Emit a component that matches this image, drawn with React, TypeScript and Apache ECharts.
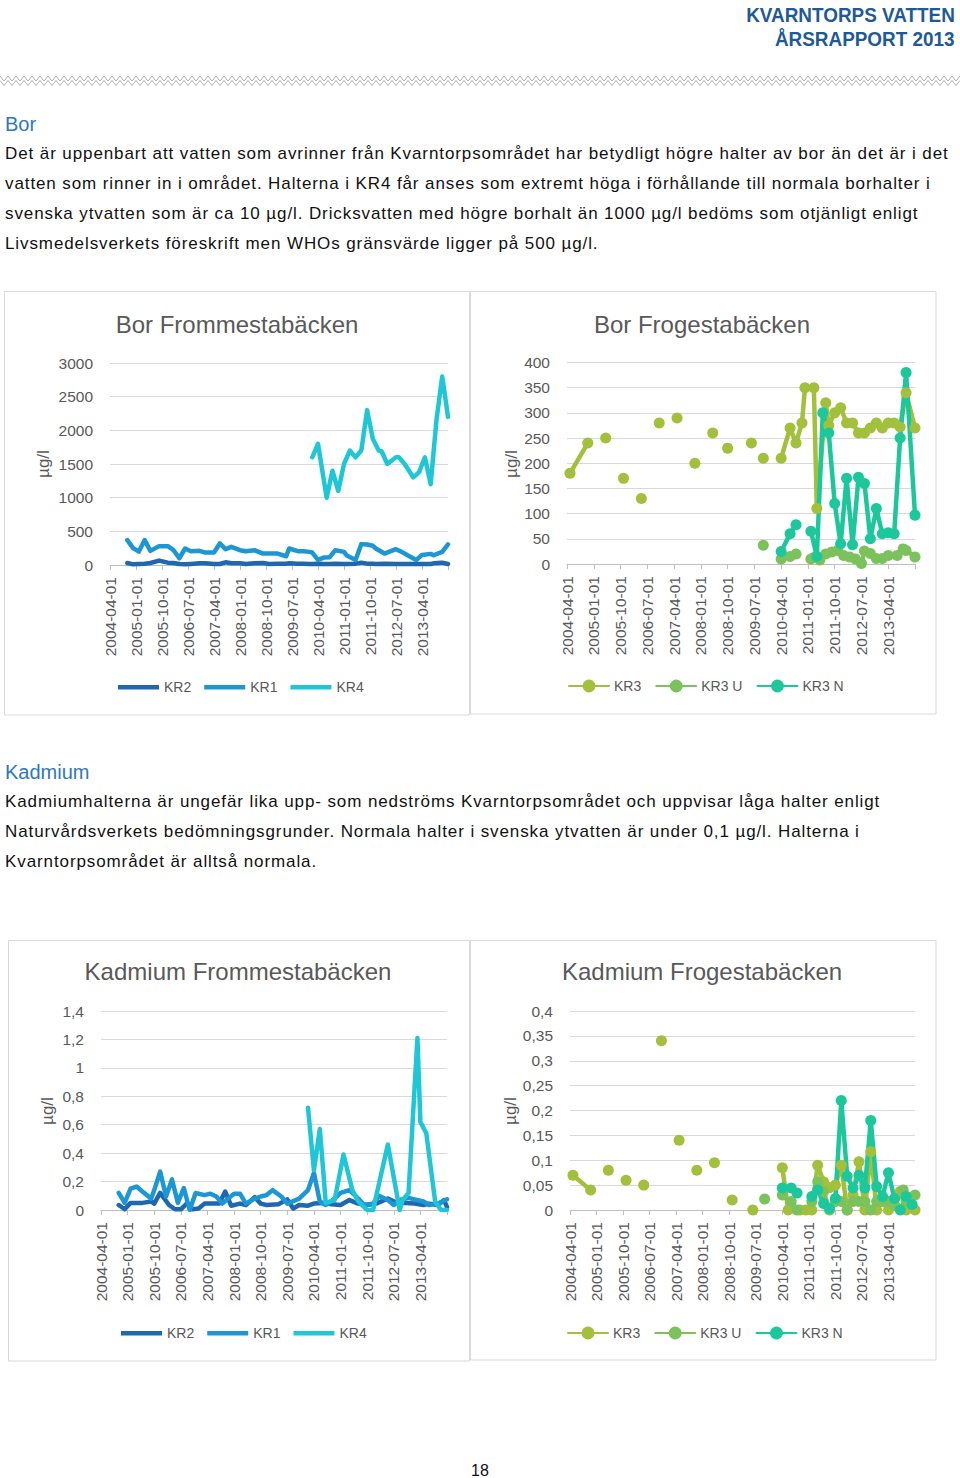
import React, { useEffect, useRef } from "react";
import * as echarts from "echarts";

type Pt = [string, number] | null;

// Monthly category axis 2004-04-01 .. 2014-01-01
const MONTHS: string[] = [];
for (let i = 0; i < 118; i++) {
  const y = 2004 + Math.floor((i + 3) / 12);
  const m = ((i + 3) % 12) + 1;
  MONTHS.push(`${y}-${m < 10 ? "0" + m : m}-01`);
}

const BOR_FROM_TICKS = ["0", "500", "1000", "1500", "2000", "2500", "3000"];
const BOR_FROG_TICKS = ["0", "50", "100", "150", "200", "250", "300", "350", "400"];
const CD_FROM_TICKS = ["0", "0,2", "0,4", "0,6", "0,8", "1", "1,2", "1,4"];
const CD_FROG_TICKS = ["0", "0,05", "0,1", "0,15", "0,2", "0,25", "0,3", "0,35", "0,4"];

// ---- Bor Frommestabäcken ----
const KR2_BOR_FROM: Pt[] = [["2004-10",30],["2004-12",10],["2005-02",15],["2005-04",20],["2005-06",30],["2005-09",65],["2005-12",35],["2006-02",30],["2006-04",15],["2006-06",10],["2006-08",15],["2006-11",25],["2007-01",25],["2007-04",15],["2007-06",15],["2007-08",40],["2007-10",25],["2008-01",25],["2008-03",15],["2008-06",25],["2008-09",30],["2008-11",15],["2009-02",20],["2009-05",20],["2009-06",25],["2009-09",20],["2009-11",20],["2010-01",15],["2010-02",15],["2010-04",20],["2010-06",15],["2010-08",15],["2010-10",20],["2011-01",15],["2011-02",15],["2011-05",20],["2011-07",35],["2011-09",20],["2011-11",20],["2011-12",15],["2012-03",20],["2012-07",15],["2012-09",15],["2012-11",15],["2013-02",15],["2013-04",15],["2013-07",15],["2013-08",25],["2013-11",35],["2014-01",15]];
const KR1_BOR_FROM: Pt[] = [["2004-10",370],["2004-12",250],["2005-02",200],["2005-04",370],["2005-06",210],["2005-09",280],["2005-12",280],["2006-02",220],["2006-04",100],["2006-06",245],["2006-08",205],["2006-11",210],["2007-01",185],["2007-04",185],["2007-06",320],["2007-08",235],["2007-10",270],["2008-01",220],["2008-03",205],["2008-06",220],["2008-09",170],["2008-11",170],["2009-02",170],["2009-05",130],["2009-06",245],["2009-09",205],["2009-11",205],["2010-01",195],["2010-02",185],["2010-04",75],["2010-06",110],["2010-08",115],["2010-10",220],["2011-01",195],["2011-02",140],["2011-05",75],["2011-07",310],["2011-09",305],["2011-11",285],["2011-12",245],["2012-03",170],["2012-07",235],["2012-09",195],["2012-11",145],["2013-02",75],["2013-04",150],["2013-07",165],["2013-08",145],["2013-11",195],["2014-01",305]];
const KR4_BOR_FROM: Pt[] = [["2010-02",1600],["2010-04",1800],["2010-07",1000],["2010-09",1400],["2010-11",1100],["2011-01",1500],["2011-03",1700],["2011-05",1600],["2011-07",1700],["2011-09",2300],["2011-11",1870],["2012-01",1700],["2012-02",1690],["2012-04",1500],["2012-07",1600],["2012-08",1600],["2012-10",1500],["2013-01",1300],["2013-03",1380],["2013-05",1600],["2013-07",1200],["2013-09",2150],["2013-11",2800],["2014-01",2200]];

// ---- Bor Frogestabäcken ---- (null = gap in the series)
const KR3_BOR_FROG: Pt[] = [["2004-05",180],["2004-11",240],null,["2005-05",250],null,["2005-11",170],null,["2006-05",130],null,["2006-11",280],null,["2007-05",290],null,["2007-11",200],null,["2008-05",260],null,["2008-10",230],null,["2009-06",240],null,["2009-10",210],null,["2010-04",210],["2010-07",270],["2010-09",240],["2010-11",280],["2010-12",350],["2011-03",350],["2011-04",110],["2011-07",320],["2011-08",275],["2011-10",300],["2011-12",310],["2012-02",280],["2012-04",280],["2012-06",260],["2012-08",260],["2012-10",270],["2012-12",280],["2013-02",270],["2013-04",280],["2013-06",280],["2013-08",272],["2013-10",340],["2014-01",270]];
const KR3U_BOR_FROG: Pt[] = [["2009-10",37],null,["2010-04",10],["2010-07",15],["2010-09",20],null,["2011-02",10],["2011-03",13],["2011-05",8],["2011-07",20],["2011-09",24],["2011-11",27],["2012-01",17],["2012-03",14],["2012-05",10],["2012-07",1],["2012-08",26],["2012-10",21],["2012-12",11],["2013-02",11],["2013-04",17],["2013-07",17],["2013-09",30],["2013-10",27],["2014-01",14]];
const KR3N_BOR_FROG: Pt[] = [["2010-04",25],["2010-07",60],["2010-09",78],null,["2011-02",65],["2011-04",15],["2011-06",300],["2011-08",260],["2011-10",120],["2011-12",40],["2012-02",170],["2012-04",38],["2012-06",172],["2012-08",160],["2012-10",50],["2012-12",110],["2013-02",60],["2013-04",62],["2013-06",60],["2013-08",250],["2013-10",380],["2014-01",97]];

// ---- Kadmium Frommestabäcken ----
const KR2_CD_FROM: Pt[] = [["2004-10",0.035],["2004-12",0.005],["2005-02",0.05],["2005-06",0.05],["2005-09",0.06],["2005-10",0.045],["2005-12",0.12],["2006-03",0.035],["2006-05",0.005],["2006-07",0.005],["2006-09",0.045],["2006-11",0.005],["2007-01",0.01],["2007-03",0.045],["2007-05",0.045],["2007-08",0.045],["2007-10",0.13],["2007-12",0.03],["2008-03",0.045],["2008-05",0.035],["2008-08",0.09],["2008-10",0.045],["2008-12",0.035],["2009-04",0.04],["2009-07",0.075],["2009-09",0.01],["2009-11",0.035],["2010-02",0.03],["2010-04",0.045],["2010-07",0.05],["2010-10",0.04],["2011-01",0.035],["2011-04",0.07],["2011-07",0.045],["2011-10",0.035],["2012-01",0.045],["2012-05",0.08],["2012-08",0.05],["2012-11",0.05],["2013-02",0.045],["2013-05",0.035],["2013-07",0.045],["2013-10",0.035],["2013-12",0.07],["2014-01",0.02]];
const KR1_CD_FROM: Pt[] = [["2004-10",0.12],["2004-12",0.05],["2005-02",0.15],["2005-04",0.165],["2005-06",0.13],["2005-09",0.08],["2005-10",0.14],["2005-12",0.27],["2006-02",0.095],["2006-04",0.215],["2006-06",0.05],["2006-08",0.155],["2006-10",0],["2006-12",0.12],["2007-03",0.105],["2007-05",0.115],["2007-07",0.095],["2007-09",0.045],["2007-11",0.08],["2008-01",0.115],["2008-03",0.115],["2008-05",0.045],["2008-08",0.08],["2008-10",0.095],["2008-12",0.105],["2009-02",0.14],["2009-05",0.095],["2009-07",0.045],["2009-11",0.08],["2010-02",0.14],["2010-04",0.26],["2010-06",0.06],["2010-08",0.035],["2010-11",0.08],["2011-01",0.12],["2011-04",0.14],["2011-07",0.08],["2011-09",0.035],["2011-12",0.045],["2012-02",0.1],["2012-05",0.07],["2012-07",0.035],["2012-09",0.07],["2012-12",0.085],["2013-02",0.075],["2013-05",0.06],["2013-07",0.035],["2013-10",0.045],["2014-01",0.075]];
const KR4_CD_FROM: Pt[] = [["2010-02",0.72],["2010-04",0.28],["2010-06",0.57],["2010-08",0.05],["2010-11",0.07],["2011-02",0.39],["2011-05",0.14],["2011-07",0.06],["2011-10",0],["2011-12",0],["2012-05",0.46],["2012-09",0],["2012-10",0.07],["2012-12",0.12],["2013-03",1.21],["2013-04",0.62],["2013-06",0.54],["2013-09",0.06],["2013-11",0],["2014-01",0]];

// ---- Kadmium Frogestabäcken ----
const KR3_CD_FROG: Pt[] = [["2004-05",0.07],["2004-11",0.04],null,["2005-05",0.08],null,["2005-11",0.06],null,["2006-05",0.05],null,["2006-11",0.34],null,["2007-05",0.14],null,["2007-11",0.08],null,["2008-05",0.095],null,["2008-11",0.02],null,["2009-06",0],null,["2010-04",0.085],["2010-06",0],["2010-10",0],["2010-12",0],["2011-02",0],["2011-04",0.09],["2011-06",0.057],["2011-08",0.045],["2011-10",0.05],["2011-12",0.09],["2012-02",0],["2012-04",0.03],["2012-06",0.097],["2012-08",0],["2012-10",0.117],["2012-12",0],["2013-02",0.02],["2013-04",0],["2013-06",0.01],["2013-08",0.037],["2013-10",0],["2014-01",0]];
const KR3U_CD_FROG: Pt[] = [["2009-10",0.022],null,["2010-04",0.03],["2010-07",0.017],["2010-09",0],null,["2011-02",0.017],["2011-04",0.057],["2011-06",0.037],["2011-08",0],["2011-10",0.017],["2011-12",0.017],["2012-02",0],["2012-04",0.017],["2012-06",0.017],["2012-08",0.017],["2012-10",0],["2012-12",0.017],["2013-02",0.017],["2013-04",0.017],["2013-06",0.01],["2013-09",0.04],["2013-10",0.017],["2014-01",0.03]];
const KR3N_CD_FROG: Pt[] = [["2010-04",0.044],["2010-07",0.044],["2010-09",0.034],null,["2011-02",0.027],["2011-04",0.04],["2011-06",0.013],["2011-08",0.003],["2011-10",0.023],["2011-12",0.22],["2012-02",0.068],["2012-04",0.044],["2012-06",0.07],["2012-08",0.044],["2012-10",0.18],["2012-12",0.047],["2013-02",0.027],["2013-04",0.075],["2013-06",0.023],["2013-08",0],["2013-10",0.027],["2013-12",0.011]];

const C_KR2 = "#1f67b1";
const C_KR1 = "#1c97d4";
const C_KR4 = "#1fc6d6";
const C_KR3 = "#a3c03c";
const C_KR3U = "#7cc25c";
const C_KR3N = "#1cc89b";

const FONT = "'Liberation Sans', Arial, Helvetica, sans-serif";
const GREY = "#595959";
const LW = 4.5;

function toData(pts: Pt[]) {
  const out: any[] = [];
  let last = MONTHS[0];
  for (const p of pts) {
    if (p === null) out.push([last, null]);
    else {
      last = p[0] + "-01";
      out.push([last, p[1]]);
    }
  }
  return out;
}

function line(name: string, color: string, pts: Pt[], idx: number, markers: boolean) {
  return {
    type: "line",
    name,
    xAxisIndex: idx,
    yAxisIndex: idx,
    data: toData(pts),
    symbol: markers ? "circle" : "none",
    symbolSize: 11,
    showAllSymbol: true,
    connectNulls: false,
    lineStyle: { color, width: LW, cap: "round", join: "round" },
    itemStyle: { color },
    emphasis: { disabled: true },
  };
}

const GRIDS = [
  { left: 110, top: 363, width: 338, height: 202 },
  { left: 567, top: 362.5, width: 348, height: 201.5 },
  { left: 101, top: 1011, width: 346, height: 199 },
  { left: 570, top: 1011, width: 345, height: 199 },
];

function xAxis(i: number) {
  return {
    type: "category",
    gridIndex: i,
    data: MONTHS,
    boundaryGap: false,
    axisLine: { lineStyle: { color: "#bfbfbf", width: 1 } },
    axisTick: { show: true, interval: (idx: number) => idx % 9 === 0, length: 5, lineStyle: { color: "#bfbfbf" } },
    axisLabel: {
      rotate: 90,
      interval: (idx: number) => idx % 9 === 0 && idx <= 108,
      color: GREY,
      fontSize: 15.5,
      fontFamily: FONT,
      margin: 12,
      padding: [6, 0, 0, 0],
    },
    splitLine: { show: false },
  };
}

function yAxis(i: number, max: number, interval: number, ticks: string[]) {
  return {
    type: "value",
    gridIndex: i,
    min: 0,
    max,
    interval,
    axisLine: { show: false },
    axisTick: { show: false },
    axisLabel: {
      color: GREY,
      fontSize: 15.5,
      fontFamily: FONT,
      margin: 17,
      formatter: (v: number) => ticks[Math.round(v / interval)] ?? "",
    },
    splitLine: { lineStyle: { color: "#d9d9d9", width: 1 } },
  };
}

function legendPlain(names: string[], left: number, centerY: number) {
  return {
    data: names.map((n) => ({ name: n, icon: "rect" })),
    left,
    top: centerY - 11.75,
    orient: "horizontal",
    itemWidth: 41,
    itemHeight: LW,
    itemGap: 13,
    textStyle: { color: GREY, fontSize: 14, fontFamily: FONT },
    selectedMode: false,
  };
}

function legendMarker(names: string[], left: number, centerY: number) {
  return {
    data: names,
    left,
    top: centerY - 12,
    orient: "horizontal",
    itemWidth: 40,
    itemHeight: 16,
    itemGap: 14,
    textStyle: { color: GREY, fontSize: 14, fontFamily: FONT },
    selectedMode: false,
  };
}

function title(text: string, x: number, y: number) {
  return {
    type: "text",
    x,
    y,
    silent: true,
    style: { text, fill: GREY, font: `24px ${FONT}`, textAlign: "center", textVerticalAlign: "middle", align: "center", verticalAlign: "middle" },
  };
}

function unit(x: number, y: number) {
  return {
    type: "text",
    x,
    y,
    rotation: Math.PI / 2,
    silent: true,
    style: { text: "µg/l", fill: GREY, font: `17px ${FONT}`, textAlign: "center", textVerticalAlign: "middle", align: "center", verticalAlign: "middle" },
  };
}

function box(x: number, y: number, w: number, h: number) {
  return {
    type: "rect",
    silent: true,
    shape: { x, y, width: w, height: h },
    style: { fill: "none", stroke: "#d9d9d9", lineWidth: 1 },
  };
}

function zigzag(yTop: number, yBot: number) {
  const pts: number[][] = [];
  for (let x = 0, k = 0; x <= 960; x += 4, k++) pts.push([x, k % 2 === 0 ? yTop : yBot]);
  return {
    type: "polyline",
    silent: true,
    shape: { points: pts },
    style: { stroke: "#9a9a9a", lineWidth: 0.8, fill: "none" },
  };
}

const option: any = {
  animation: false,
  backgroundColor: "#ffffff",
  textStyle: { fontFamily: FONT },
  grid: GRIDS,
  xAxis: [xAxis(0), xAxis(1), xAxis(2), xAxis(3)],
  yAxis: [
    yAxis(0, 3000, 500, BOR_FROM_TICKS),
    yAxis(1, 400, 50, BOR_FROG_TICKS),
    yAxis(2, 1.4, 0.2, CD_FROM_TICKS),
    yAxis(3, 0.4, 0.05, CD_FROG_TICKS),
  ],
  legend: [
    legendPlain(["KR2", "KR1", "KR4"], 113, 687),
    legendMarker(["KR3", "KR3 U", "KR3 N"], 563, 686),
    legendPlain(["KR2", "KR1", "KR4"], 116, 1333),
    legendMarker(["KR3", "KR3 U", "KR3 N"], 562, 1333),
  ],
  graphic: {
    elements: [
      zigzag(76, 81),
      zigzag(80.5, 85.5),
      box(4.5, 291.5, 465, 423.5),
      box(470.5, 291.5, 465.5, 422.5),
      box(8.5, 940.5, 461, 420.5),
      box(470.5, 940.5, 465.5, 419.5),
      title("Bor Frommestabäcken", 237, 324),
      title("Bor Frogestabäcken", 702, 324),
      title("Kadmium Frommestabäcken", 238, 971),
      title("Kadmium Frogestabäcken", 702, 971),
      unit(43, 464),
      unit(511, 464),
      unit(47, 1111),
      unit(510, 1111),
    ],
  },
  series: [
    line("KR2", C_KR2, KR2_BOR_FROM, 0, false),
    line("KR1", C_KR1, KR1_BOR_FROM, 0, false),
    line("KR4", C_KR4, KR4_BOR_FROM, 0, false),
    line("KR3", C_KR3, KR3_BOR_FROG, 1, true),
    line("KR3 U", C_KR3U, KR3U_BOR_FROG, 1, true),
    line("KR3 N", C_KR3N, KR3N_BOR_FROG, 1, true),
    line("KR2", C_KR2, KR2_CD_FROM, 2, false),
    line("KR1", C_KR1, KR1_CD_FROM, 2, false),
    line("KR4", C_KR4, KR4_CD_FROM, 2, false),
    line("KR3", C_KR3, KR3_CD_FROG, 3, true),
    line("KR3 U", C_KR3U, KR3U_CD_FROG, 3, true),
    line("KR3 N", C_KR3N, KR3N_CD_FROG, 3, true),
  ],
};

type TextLine = { text: string; x: number; y: number; size: number; color: string; bold?: boolean; right?: boolean; spacing?: number; center?: boolean };

const BODY = "#111111";
const HEAD = "#2f77bb";
const SP = 0.9;
const PAGE_TEXT: TextLine[] = [
  { text: "KVARNTORPS VATTEN", x: 5, y: 14, size: 21, color: "#1f5a97", bold: true, right: true },
  { text: "ÅRSRAPPORT 2013", x: 5, y: 38, size: 21, color: "#1f5a97", bold: true, right: true },
  { text: "Bor", x: 5, y: 124, size: 20, color: HEAD },
  { text: "Det är uppenbart att vatten som avrinner från Kvarntorpsområdet har betydligt högre halter av bor än det är i det", x: 5, y: 154, size: 17, color: BODY, spacing: SP },
  { text: "vatten som rinner in i området. Halterna i KR4 får anses som extremt höga i förhållande till normala borhalter i", x: 5, y: 184, size: 17, color: BODY, spacing: SP },
  { text: "svenska ytvatten som är ca 10 µg/l. Dricksvatten med högre borhalt än 1000 µg/l bedöms som otjänligt enligt", x: 5, y: 214, size: 17, color: BODY, spacing: SP },
  { text: "Livsmedelsverkets föreskrift men WHOs gränsvärde ligger på 500 µg/l.", x: 5, y: 244, size: 17, color: BODY, spacing: SP },
  { text: "Kadmium", x: 5, y: 772, size: 20, color: HEAD },
  { text: "Kadmiumhalterna är ungefär lika upp- som nedströms Kvarntorpsområdet och uppvisar låga halter enligt", x: 5, y: 802, size: 17, color: BODY, spacing: SP },
  { text: "Naturvårdsverkets bedömningsgrunder. Normala halter i svenska ytvatten är under 0,1 µg/l. Halterna i", x: 5, y: 832, size: 17, color: BODY, spacing: SP },
  { text: "Kvarntorpsområdet är alltså normala.", x: 5, y: 862, size: 17, color: BODY, spacing: SP },
  { text: "18", x: 480, y: 1470, size: 16, color: BODY, center: true },
];

export default function App() {
  const ref = useRef<HTMLDivElement>(null);
  useEffect(() => {
    if (!ref.current) return;
    const chart = echarts.init(ref.current, undefined, { renderer: "svg" });
    chart.setOption(option);
    return () => chart.dispose();
  }, []);
  return (
    <div style={{ position: "absolute", left: 0, top: 0, width: 960, height: 1478, background: "#fff", overflow: "hidden", fontFamily: FONT }}>
      <div ref={ref} style={{ position: "absolute", left: 0, top: 0, width: 960, height: 1478 }} />
      {PAGE_TEXT.map((t, i) => {
        const lh = Math.round(t.size * 1.3);
        const style: React.CSSProperties = {
          position: "absolute",
          top: t.y - lh / 2,
          lineHeight: lh + "px",
          height: lh,
          fontSize: t.size,
          color: t.color,
          fontWeight: t.bold ? 700 : 400,
          whiteSpace: "nowrap",
          letterSpacing: t.spacing ? t.spacing + "px" : undefined,
          fontFamily: FONT,
        };
        if (t.right) {
          style.right = t.x;
          style.transform = "scaleX(0.9)";
          style.transformOrigin = "right center";
        } else if (t.center) {
          style.left = t.x;
          style.transform = "translateX(-50%)";
        } else {
          style.left = t.x;
        }
        return (
          <div key={i} style={style}>
            {t.text}
          </div>
        );
      })}
    </div>
  );
}
